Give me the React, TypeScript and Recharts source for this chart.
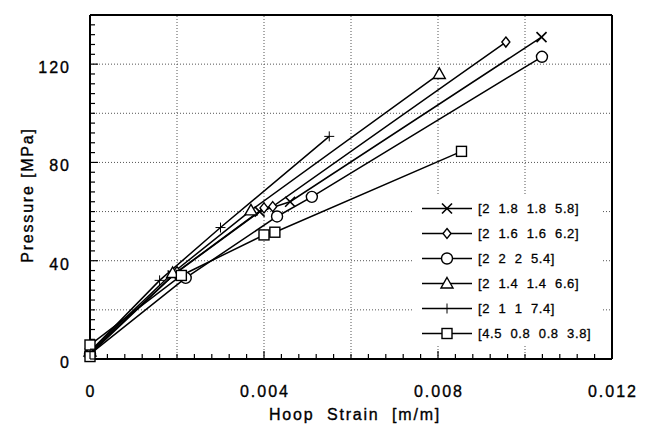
import React from "react";
import { LineChart, Line, XAxis, YAxis, ReferenceLine, Legend } from "recharts";

const FONT = "'Liberation Sans', Arial, sans-serif";

// readings, strain [m/m] and pressure [MPa]
const strainA = [0, 0.0019, 0.0039, 0.0046, 0.01038];
const pressA = [2.5, 34, 60, 64, 131];
const strainB = [0, 0.002, 0.004, 0.0042, 0.00956];
const pressB = [2, 35.5, 61.5, 62, 129];
const strainC = [0, 0.0022, 0.0043, 0.0051, 0.01039];
const pressC = [2, 33, 58, 66, 123];
const strainD = [0, 0.0019, 0.0037, 0.00803];
const pressD = [3, 35, 60.5, 116];
const strainE = [0, 0.0016, 0.003, 0.0055];
const pressE = [3, 32, 53.5, 90.6];
const strainF = [0, 0, 0.0021, 0.004, 0.00425, 0.00854];
const pressF = [1, 5.7, 34, 50.5, 51.6, 84.5];

const seriesList = [
  { name: "[2  1.8  1.8  5.8]", shape: "x", strain: strainA, pressure: pressA },
  { name: "[2  1.6  1.6  6.2]", shape: "diamond", strain: strainB, pressure: pressB },
  { name: "[2  2  2  5.4]", shape: "circle", strain: strainC, pressure: pressC },
  { name: "[2  1.4  1.4  6.6]", shape: "triangle", strain: strainD, pressure: pressD },
  { name: "[2  1  1  7.4]", shape: "plus", strain: strainE, pressure: pressE },
  { name: "[4.5  0.8  0.8  3.8]", shape: "square", strain: strainF, pressure: pressF },
];

const xLabelTicks = [0, 0.004, 0.008, 0.012];
const yLabelTicks = [0, 40, 80, 120];
const xGrid = [0.002, 0.004, 0.006, 0.008, 0.01];
const yGrid = [20, 40, 60, 80, 100, 120];
const xMinorTicks = Array.from({ length: 31 }, (_, i) => +(i * 0.0004).toFixed(4));
const yMinorTicks = Array.from({ length: 36 }, (_, i) => i * 4);

const isIn = (list: number[], v: number) => list.some((t) => Math.abs(t - v) < 1e-9);

const textStyle = { fontFamily: FONT, fill: "#000", stroke: "#000", strokeWidth: 0.35 };

function Marker({ shape, cx, cy }: { shape: string; cx: number; cy: number }) {
  const k = { stroke: "#000", fill: "#fff", strokeWidth: 1.4 };
  if (shape === "x")
    return (
      <g stroke="#000" strokeWidth={1.6}>
        <line x1={cx - 5} y1={cy - 5} x2={cx + 5} y2={cy + 5} />
        <line x1={cx - 5} y1={cy + 5} x2={cx + 5} y2={cy - 5} />
      </g>
    );
  if (shape === "diamond")
    return <polygon {...k} points={`${cx},${cy - 5} ${cx + 4},${cy} ${cx},${cy + 5} ${cx - 4},${cy}`} />;
  if (shape === "circle") return <circle {...k} cx={cx} cy={cy} r={5.5} />;
  if (shape === "triangle")
    return <polygon {...k} points={`${cx},${cy - 6} ${cx + 6},${cy + 4.5} ${cx - 6},${cy + 4.5}`} />;
  if (shape === "plus")
    return (
      <g stroke="#000" strokeWidth={1}>
        <line x1={cx - 5} y1={cy} x2={cx + 5} y2={cy} />
        <line x1={cx} y1={cy - 5} x2={cx} y2={cy + 5} />
      </g>
    );
  return <rect {...k} x={cx - 5} y={cy - 5} width={10} height={10} />;
}

function BottomTick({ x, y, payload }: any) {
  const major = isIn(xLabelTicks, payload.value);
  return (
    <g>
      <line x1={x} x2={x} y1={y} y2={y - (major ? 8 : 5)} stroke="#000" strokeWidth={1.2} />
      {major && (
        <text x={x + 1} y={y + 38} textAnchor="middle" fontSize={16} letterSpacing={2} {...textStyle}>
          {String(payload.value)}
        </text>
      )}
    </g>
  );
}

function TopTick({ x, y, payload }: any) {
  const major = isIn(xLabelTicks, payload.value);
  return <line x1={x} x2={x} y1={y} y2={y + (major ? 8 : 5)} stroke="#000" strokeWidth={1.2} />;
}

function LeftTick({ x, y, payload }: any) {
  const major = isIn(yLabelTicks, payload.value);
  return (
    <g>
      <line x1={x} x2={x + (major ? 8 : 5)} y1={y} y2={y} stroke="#000" strokeWidth={1.2} />
      {major && (
        <text x={x - 19} y={y + 9} textAnchor="end" fontSize={16} letterSpacing={2} {...textStyle}>
          {String(payload.value)}
        </text>
      )}
    </g>
  );
}

function RightTick({ x, y, payload }: any) {
  const major = isIn(yLabelTicks, payload.value);
  return <line x1={x} x2={x - (major ? 8 : 5)} y1={y} y2={y} stroke="#000" strokeWidth={1.2} />;
}

function LegendBox() {
  return (
    <div style={{ background: "#fff" }}>
      {seriesList.map((s) => (
        <div key={s.name} style={{ display: "flex", alignItems: "center", height: 25 }}>
          <svg width={62} height={25} style={{ display: "block" }}>
            <line x1={9} x2={59} y1={12.5} y2={12.5} stroke="#000" strokeWidth={1.5} />
            <Marker shape={s.shape} cx={34} cy={12.5} />
          </svg>
          <span
            style={{
              fontFamily: FONT,
              fontSize: 13,
              whiteSpace: "pre",
              letterSpacing: 0.6,
              marginLeft: 3,
              color: "#000",
              WebkitTextStroke: "0.3px #000",
            }}
          >
            {s.name}
          </span>
        </div>
      ))}
    </div>
  );
}

export default function App() {
  return (
    <div style={{ position: "absolute", left: 0, top: 0 }}>
      <LineChart width={649} height={425} margin={{ top: 14, right: 36, bottom: 0, left: 0 }}>
        <XAxis
          xAxisId="b"
          type="number"
          dataKey="x"
          domain={[0, 0.012]}
          ticks={xMinorTicks}
          interval={0}
          height={66}
          tickSize={0}
          tickMargin={0}
          tickLine={false}
          tick={<BottomTick />}
          axisLine={{ stroke: "#000", strokeWidth: 2 }}
          label={{
            content: () => (
              <text x={355} y={420} textAnchor="middle" fontSize={16} letterSpacing={1.8} {...textStyle} style={{ whiteSpace: "pre" }}>
                Hoop  Strain  [m/m]
              </text>
            ),
          }}
        />
        <XAxis
          xAxisId="t"
          orientation="top"
          type="number"
          domain={[0, 0.012]}
          ticks={xMinorTicks}
          interval={0}
          height={1}
          tickSize={0}
          tickMargin={0}
          tickLine={false}
          tick={<TopTick />}
          axisLine={{ stroke: "#000", strokeWidth: 2 }}
        />
        <YAxis
          yAxisId="l"
          type="number"
          domain={[0, 140]}
          ticks={yMinorTicks}
          interval={0}
          width={90}
          tickSize={0}
          tickMargin={0}
          tickLine={false}
          tick={<LeftTick />}
          axisLine={{ stroke: "#000", strokeWidth: 2 }}
          label={{
            content: () => (
              <text
                x={33}
                y={195}
                transform="rotate(-90 33 195)"
                textAnchor="middle"
                fontSize={16}
                letterSpacing={1.8}
                {...textStyle}
              >
                Pressure [MPa]
              </text>
            ),
          }}
        />
        <YAxis
          yAxisId="r"
          orientation="right"
          type="number"
          domain={[0, 140]}
          ticks={yMinorTicks}
          interval={0}
          width={1}
          tickSize={0}
          tickMargin={0}
          tickLine={false}
          tick={<RightTick />}
          axisLine={{ stroke: "#000", strokeWidth: 2 }}
        />
        {xGrid.map((v) => (
          <ReferenceLine key={"gx" + v} x={v} xAxisId="b" yAxisId="l" stroke="#555" strokeDasharray="1 2" />
        ))}
        {yGrid.map((v) => (
          <ReferenceLine key={"gy" + v} y={v} xAxisId="b" yAxisId="l" stroke="#555" strokeDasharray="1 2" />
        ))}
        {seriesList.map((s) => (
          <Line
            key={s.name}
            name={s.name}
            xAxisId="b"
            yAxisId="l"
            data={s.strain.map((x, i) => ({ x, y: s.pressure[i] }))}
            dataKey="y"
            type="linear"
            stroke="#000"
            strokeWidth={1.5}
            isAnimationActive={false}
            dot={(p: any) => <Marker key={s.name + p.index} shape={s.shape} cx={p.cx} cy={p.cy} />}
            activeDot={false}
          />
        ))}
        <Legend
          layout="vertical"
          align="center"
          verticalAlign="middle"
          content={() => <LegendBox />}
          wrapperStyle={{ left: 413, top: 196, width: 188, height: 150 }}
        />
      </LineChart>
    </div>
  );
}
